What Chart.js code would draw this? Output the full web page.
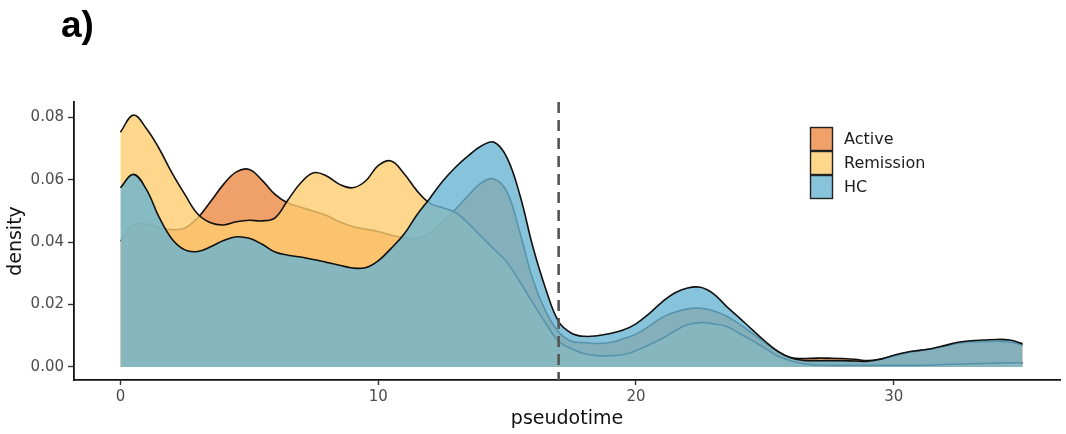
<!DOCTYPE html>
<html>
<head>
<meta charset="utf-8">
<script src="https://cdn.jsdelivr.net/npm/chart.js@4/dist/chart.umd.min.js"></script>
<style>
  html, body { margin: 0; padding: 0; background: #ffffff; }
  #wrap { width: 1066px; height: 434px; position: relative; }
</style>
</head>
<body>
<div id="wrap"><canvas id="c" width="1066" height="434"></canvas></div>
<script>
// Evaluation grid along pseudotime
const pseudotime = [
  0, 0.5, 1, 1.5, 2, 2.5, 3, 3.5, 4, 4.5, 5, 5.5, 6, 6.5, 7, 7.5, 8, 8.5, 9, 9.5,
  10, 10.5, 11, 11.5, 12, 12.5, 13, 13.5, 14, 14.5, 15, 15.5, 16, 16.5, 17, 17.5,
  18, 18.5, 19, 19.5, 20, 20.5, 21, 21.5, 22, 22.5, 23, 23.5, 24, 24.5, 25, 25.5,
  26, 26.5, 27, 27.5, 28, 28.5, 29, 29.5, 30, 30.5, 31, 31.5, 32, 32.5, 33, 33.5,
  34, 34.5, 35
];

// Kernel density per group
const activeDensity = [
  0.0403, 0.0455, 0.0458, 0.0447, 0.0440, 0.0445, 0.0478, 0.0530, 0.0585, 0.0625,
  0.0633, 0.0598, 0.0553, 0.0525, 0.0512, 0.0499, 0.0485, 0.0465, 0.0450, 0.0442,
  0.0434, 0.0422, 0.0414, 0.0412, 0.0428, 0.0465, 0.0505, 0.0550, 0.0590, 0.0602,
  0.0560, 0.0430, 0.0280, 0.0178, 0.0112, 0.0082, 0.0078, 0.0075, 0.0078, 0.0090,
  0.0105, 0.0130, 0.0158, 0.0175, 0.0186, 0.0188, 0.0180, 0.0163, 0.0138, 0.0108,
  0.0078, 0.0050, 0.0030, 0.0027, 0.0028, 0.0028, 0.0027, 0.0024, 0.0020, 0.0025,
  0.0035, 0.0045, 0.0052, 0.0058, 0.0067, 0.0076, 0.0080, 0.0081, 0.0082, 0.0080,
  0.0070
];

const remissionDensity = [
  0.0752, 0.0807, 0.0765, 0.0700, 0.0622, 0.0553, 0.0490, 0.0462, 0.0455, 0.0465,
  0.0470, 0.0468, 0.0478, 0.0535, 0.0590, 0.0622, 0.0612, 0.0585, 0.0574, 0.0595,
  0.0645, 0.0660, 0.0620, 0.0565, 0.0525, 0.0510, 0.0495, 0.0460, 0.0418, 0.0377,
  0.0335, 0.0272, 0.0205, 0.0140, 0.0082, 0.0058, 0.0042, 0.0036, 0.0036, 0.0039,
  0.0052, 0.0070, 0.0090, 0.0115, 0.0135, 0.0142, 0.0138, 0.0130, 0.0108, 0.0085,
  0.0060, 0.0035, 0.0020, 0.0010, 0.0006, 0.0005, 0.0005, 0.0005, 0.0005, 0.0005,
  0.0005, 0.0005, 0.0005, 0.0006, 0.0008, 0.0009, 0.0010, 0.0011, 0.0012, 0.0013,
  0.0013
];

const hcDensity = [
  0.0574, 0.0617, 0.0570, 0.0480, 0.0410, 0.0375, 0.0370, 0.0385, 0.0405, 0.0417,
  0.0412, 0.0393, 0.0368, 0.0358, 0.0352, 0.0344, 0.0335, 0.0326, 0.0317, 0.0318,
  0.0340, 0.0380, 0.0425, 0.0487, 0.0540, 0.0595, 0.0640, 0.0677, 0.0708, 0.0720,
  0.0670, 0.0550, 0.0385, 0.0250, 0.0145, 0.0108, 0.0098, 0.0100, 0.0107, 0.0118,
  0.0138, 0.0170, 0.0207, 0.0237, 0.0253, 0.0255, 0.0235, 0.0195, 0.0158, 0.0120,
  0.0083, 0.0050, 0.0029, 0.0021, 0.0020, 0.0020, 0.0020, 0.0019, 0.0018, 0.0025,
  0.0037, 0.0047, 0.0053, 0.0059, 0.0069, 0.0079, 0.0084, 0.0086, 0.0088, 0.0086,
  0.0074
];

const groupNames = ['Active', 'Remission', 'HC'];
const groupFills = ['rgba(236,136,68,0.8)', 'rgba(254,204,111,0.8)', 'rgba(105,180,210,0.8)'];

const xTicks = [0, 10, 20, 30];
const xTickLabels = ['0', '10', '20', '30'];
const yTicks = [0, 0.02, 0.04, 0.06, 0.08];
const yTickLabels = ['0.00', '0.02', '0.04', '0.06', '0.08'];

const cutoffTime = 17;
const panelLabel = 'a)';

const FONT = '"DejaVu Sans", "Liberation Sans", sans-serif';

function toPoints(ys) {
  return pseudotime.map((x, i) => ({ x: x, y: ys[i] }));
}

const seriesValues = [activeDensity, remissionDensity, hcDensity];

// Later groups are painted over earlier ones (HC on top)
const datasets = groupNames.map((name, i) => ({
  label: name,
  data: toPoints(seriesValues[i]),
  backgroundColor: groupFills[i],
  borderColor: '#111111',
  borderWidth: 1.6,
  fill: 'origin',
  pointRadius: 0,
  tension: 0.4,
  order: groupNames.length - i
}));

// Dashed vertical cutoff
const cutoffPlugin = {
  id: 'cutoffLine',
  afterDatasetsDraw(chart) {
    const { ctx, chartArea, scales } = chart;
    const x = scales.x.getPixelForValue(cutoffTime);
    ctx.save();
    ctx.strokeStyle = '#555555';
    ctx.lineWidth = 2.6;
    ctx.setLineDash([11, 7]);
    ctx.beginPath();
    ctx.moveTo(x, chartArea.top);
    ctx.lineTo(x, chartArea.bottom);
    ctx.stroke();
    ctx.restore();
  }
};

// Legend inside the panel and the panel tag
const overlayPlugin = {
  id: 'overlay',
  afterDraw(chart) {
    const { ctx } = chart;
    ctx.save();
    const keyX = 810, keyY = 127, keyW = 23, keyH = 24;
    chart.data.datasets.forEach((ds, i) => {
      const y = keyY + i * keyH;
      ctx.fillStyle = '#ffffff';
      ctx.fillRect(keyX, y, keyW, keyH);
      ctx.fillStyle = ds.backgroundColor;
      ctx.fillRect(keyX, y, keyW, keyH);
      ctx.strokeStyle = '#222222';
      ctx.lineWidth = 1.4;
      ctx.strokeRect(keyX + 0.5, y + 0.5, keyW - 1, keyH - 1);
      ctx.fillStyle = '#1a1a1a';
      ctx.font = '16px ' + FONT;
      ctx.textBaseline = 'middle';
      ctx.textAlign = 'left';
      ctx.fillText(ds.label, keyX + keyW + 11, y + keyH / 2 + 1);
    });
    ctx.fillStyle = '#000000';
    ctx.font = 'bold 37px "Liberation Sans", Arial, sans-serif';
    ctx.textBaseline = 'alphabetic';
    ctx.fillText(panelLabel, 61, 37);
    ctx.restore();
  }
};

new Chart(document.getElementById('c'), {
  type: 'line',
  data: { datasets: datasets },
  plugins: [cutoffPlugin, overlayPlugin],
  options: {
    responsive: false,
    animation: false,
    devicePixelRatio: 1,
    layout: { padding: { top: 102, right: 6, bottom: 0, left: 0 } },
    plugins: {
      legend: { display: false },
      tooltip: { enabled: false },
      filler: { drawTime: 'beforeDatasetDraw' }
    },
    scales: {
      x: {
        type: 'linear',
        min: -1.8,
        max: 36.45,
        afterBuildTicks(scale) { scale.ticks = xTicks.map(v => ({ value: v })); },
        afterFit(scale) { scale.height = 54; },
        ticks: {
          callback: (v) => xTickLabels[xTicks.indexOf(v)],
          font: { family: FONT, size: 15 },
          color: '#4d4d4d',
          padding: 3,
          maxRotation: 0,
          autoSkip: false
        },
        grid: { drawOnChartArea: false, drawTicks: true, tickLength: 5, tickColor: '#333333', tickWidth: 1.4 },
        border: { display: true, color: '#111111', width: 1.8 },
        title: {
          display: true,
          text: 'pseudotime',
          font: { family: FONT, size: 19 },
          color: '#111111',
          padding: { top: 0, bottom: 4 }
        }
      },
      y: {
        type: 'linear',
        min: -0.0042,
        max: 0.0849,
        afterBuildTicks(scale) { scale.ticks = yTicks.map(v => ({ value: v })); },
        afterFit(scale) { scale.width = 74; },
        ticks: {
          callback: (v) => yTickLabels[yTicks.indexOf(v)],
          font: { family: FONT, size: 15 },
          color: '#4d4d4d',
          padding: 4,
          autoSkip: false
        },
        grid: { drawOnChartArea: false, drawTicks: true, tickLength: 6, tickColor: '#333333', tickWidth: 1.4 },
        border: { display: true, color: '#111111', width: 1.8 },
        title: {
          display: true,
          text: 'density',
          font: { family: FONT, size: 19 },
          color: '#111111',
          padding: { top: 5, bottom: 0 }
        }
      }
    }
  }
});
</script>
</body>
</html>
